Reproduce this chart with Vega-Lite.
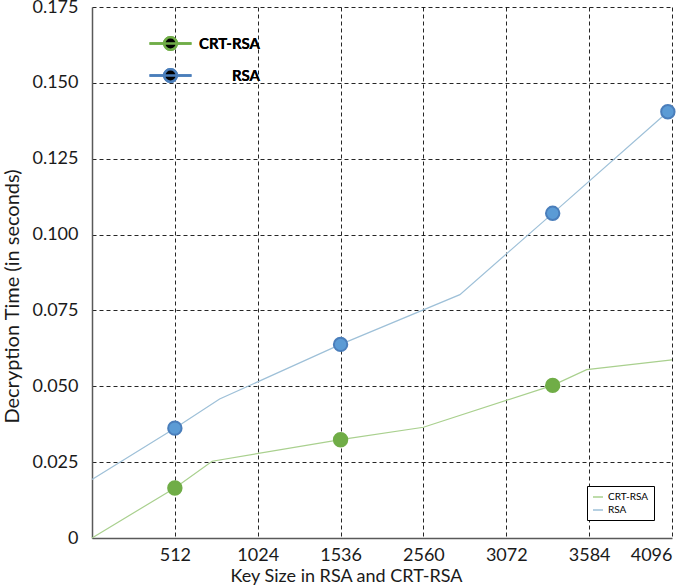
{
  "$schema": "https://vega.github.io/schema/vega-lite/v6.json",
  "autosize": {"type": "none"},
  "padding": {"left": 92, "top": 7, "right": 13, "bottom": 47},
  "width": 580,
  "height": 531,
  "background": "white",
  "config": {
    "view": {"stroke": null},
    "font": "Lato",
    "axis": {
      "labelFont": "Lato",
      "titleFont": "Lato",
      "labelColor": "#1a1a1a",
      "titleColor": "#1a1a1a",
      "labelFontSize": 18,
      "titleFontWeight": "normal",
      "gridColor": "#000000",
      "gridDash": [4, 3],
      "gridWidth": 1,
      "gridOpacity": 0.85,
      "domainColor": "#595959",
      "domainWidth": 1.5,
      "ticks": false
    }
  },
  "datasets": {
    "lines": [
      {"series": "CRT-RSA", "x": 0, "y": 0},
      {"series": "CRT-RSA", "x": 1, "y": 0.0165},
      {"series": "CRT-RSA", "x": 1.45, "y": 0.0253},
      {"series": "CRT-RSA", "x": 3, "y": 0.0324},
      {"series": "CRT-RSA", "x": 4, "y": 0.0365},
      {"series": "CRT-RSA", "x": 5.56, "y": 0.0503},
      {"series": "CRT-RSA", "x": 5.97, "y": 0.0555},
      {"series": "CRT-RSA", "x": 7, "y": 0.0587},
      {"series": "RSA", "x": 0, "y": 0.0193},
      {"series": "RSA", "x": 1, "y": 0.0362},
      {"series": "RSA", "x": 1.54, "y": 0.0458},
      {"series": "RSA", "x": 3, "y": 0.0638},
      {"series": "RSA", "x": 4.44, "y": 0.0802},
      {"series": "RSA", "x": 5.56, "y": 0.107},
      {"series": "RSA", "x": 6.95, "y": 0.1405}
    ],
    "points": [
      {"series": "CRT-RSA", "x": 1, "y": 0.0165},
      {"series": "CRT-RSA", "x": 3, "y": 0.0324},
      {"series": "CRT-RSA", "x": 5.56, "y": 0.0503},
      {"series": "RSA", "x": 1, "y": 0.0362},
      {"series": "RSA", "x": 3, "y": 0.0638},
      {"series": "RSA", "x": 5.56, "y": 0.107},
      {"series": "RSA", "x": 6.95, "y": 0.1405}
    ]
  },
  "layer": [
    {
      "data": {"name": "lines"},
      "mark": {"type": "line", "strokeWidth": 1.2},
      "encoding": {
        "x": {
          "field": "x",
          "type": "quantitative",
          "scale": {"domain": [0, 7], "nice": false, "zero": false},
          "axis": {
            "values": [1, 2, 3, 4, 5, 6, 7],
            "labelExpr": "['', '512', '1024', '1536', '2560', '3072', '3584', '4096'][datum.value]",
            "labelPadding": 8,
            "title": "Key Size in RSA and CRT-RSA",
            "titleFontSize": 18,
            "titleX": 254,
            "titleY": 38,
            "titleAlign": "center",
            "titleBaseline": "middle"
          }
        },
        "y": {
          "field": "y",
          "type": "quantitative",
          "scale": {"domain": [0, 0.175], "nice": false},
          "axis": {
            "values": [0, 0.025, 0.05, 0.075, 0.1, 0.125, 0.15, 0.175],
            "labelExpr": "datum.value == 0 ? '0' : format(datum.value, '.3f')",
            "labelPadding": 14,
            "title": "Decryption Time (in seconds)",
            "titleFontSize": 20,
            "titleX": -80,
            "titleY": 289,
            "titleAngle": -90,
            "titleAlign": "center",
            "titleBaseline": "middle"
          }
        },
        "color": {
          "field": "series",
          "type": "nominal",
          "scale": {"domain": ["CRT-RSA", "RSA"], "range": ["#A9D08E", "#9EC0D8"]},
          "legend": {
            "orient": "bottom-right",
            "title": null,
            "labelFont": "Lato",
            "labelColor": "#000000",
            "strokeColor": "#000000",
            "fillColor": "white",
            "padding": 5
          }
        }
      }
    },
    {
      "data": {"name": "points"},
      "mark": {"type": "point", "filled": true, "shape": "circle", "size": 180, "opacity": 1},
      "encoding": {
        "x": {"field": "x", "type": "quantitative"},
        "y": {"field": "y", "type": "quantitative"},
        "fill": {
          "field": "series",
          "type": "nominal",
          "scale": {"domain": ["CRT-RSA", "RSA"], "range": ["#70AD47", "#5B9BD5"]},
          "legend": {
            "orient": "none",
            "legendX": 38,
            "legendY": 23,
            "title": null,
            "symbolType": "M-3,0H3M-0.9,0A0.9,0.9 0 1,1 0.9,0A0.9,0.9 0 1,1 -0.9,0Z",
            "symbolSize": 196,
            "symbolStrokeWidth": 2.5,
            "symbolOffset": 27,
            "labelAlign": "right",
            "labelOffset": 81,
            "labelFontWeight": "bold",
            "labelFontSize": 15,
            "padding": 5,
            "rowPadding": 9
          }
        },
        "stroke": {
          "field": "series",
          "type": "nominal",
          "scale": {"domain": ["CRT-RSA", "RSA"], "range": ["#70AD47", "#4A7EBB"]},
          "legend": {
            "orient": "none",
            "legendX": 38,
            "legendY": 23,
            "title": null,
            "symbolType": "M-3,0H3M-0.9,0A0.9,0.9 0 1,1 0.9,0A0.9,0.9 0 1,1 -0.9,0Z",
            "symbolSize": 196,
            "symbolStrokeWidth": 2.5,
            "symbolOffset": 27,
            "labelAlign": "right",
            "labelOffset": 81,
            "labelFontWeight": "bold",
            "labelFontSize": 15,
            "padding": 5,
            "rowPadding": 9
          }
        }
      }
    }
  ]
}
